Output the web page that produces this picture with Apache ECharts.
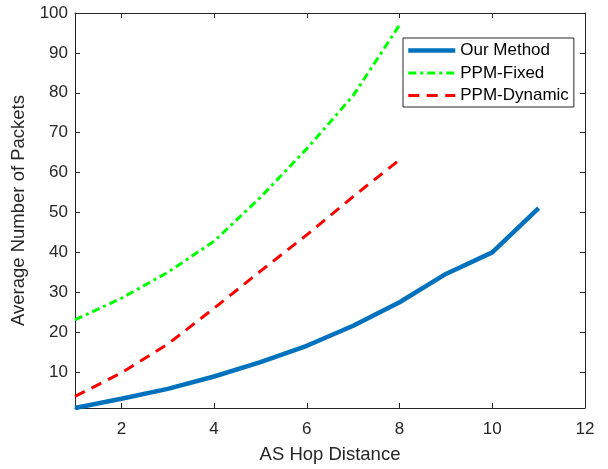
<!DOCTYPE html>
<html>
<head>
<meta charset="utf-8">
<script src="https://cdn.jsdelivr.net/npm/echarts@6/dist/echarts.min.js"></script>
<style>html,body{margin:0;padding:0;background:#fff}#c{width:608px;height:469px}</style>
</head>
<body>
<div id="c"></div>
<script>
var hops = [1, 2, 3, 4, 5, 6, 7, 8, 9, 10, 11];
var ourMethod = [1.0, 3.3, 5.8, 8.9, 12.5, 16.6, 21.6, 27.5, 34.6, 40.0, 51.1];
var ppmFixed = [23.1, 28.5, 35.0, 42.8, 53.8, 66.0, 79.3, 97.0];
var ppmDynamic = [3.9, 9.8, 17.0, 26.0, 35.3, 44.4, 54.0, 63.2];
var xTicks = [2, 4, 6, 8, 10, 12];
var yTicks = [10, 20, 30, 40, 50, 60, 70, 80, 90, 100];

function pairs(xs, ys) { return ys.map(function (v, i) { return [xs[i], v]; }); }

var font = "'Liberation Sans', Arial, Helvetica, sans-serif";
var axisColor = '#262626';

var chart = echarts.init(document.getElementById('c'), null, { renderer: 'canvas' });
chart.setOption({
  animation: false,
  backgroundColor: '#fff',
  grid: { left: 75, top: 13, right: 23, bottom: 57, containLabel: false },
  legend: {
    left: 403, top: 38,
    orient: 'vertical',
    backgroundColor: '#fff',
    borderColor: axisColor, borderWidth: 1,
    padding: [4, 5, 3, 3],
    itemGap: 5.5,
    itemWidth: 47, itemHeight: 17,
    itemStyle: { opacity: 0 },
    lineStyle: { width: 'inherit' },
    textStyle: { fontFamily: font, fontSize: 17, color: '#000' },
    data: ['Our Method', 'PPM-Fixed', 'PPM-Dynamic']
  },
  xAxis: [{
    type: 'value', min: 1, max: 12,
    name: 'AS Hop Distance', nameLocation: 'middle', nameGap: 37,
    nameTextStyle: { fontFamily: font, fontSize: 18.5, color: axisColor },
    axisLine: { show: true, lineStyle: { color: axisColor, width: 1 } },
    axisTick: { show: true, inside: true, length: 5, customValues: xTicks, lineStyle: { color: axisColor } },
    axisLabel: { customValues: xTicks, fontFamily: font, fontSize: 17, color: axisColor, margin: 13 },
    splitLine: { show: false }
  }, {
    type: 'value', min: 1, max: 12, position: 'top',
    axisLine: { show: true, lineStyle: { color: axisColor, width: 1 } },
    axisTick: { show: true, inside: true, length: 5, customValues: xTicks, lineStyle: { color: axisColor } },
    axisLabel: { show: false },
    splitLine: { show: false }
  }],
  yAxis: [{
    type: 'value', min: 1, max: 100,
    name: 'Average Number of Packets', nameLocation: 'middle', nameGap: 44,
    nameTextStyle: { fontFamily: font, fontSize: 18.5, color: axisColor },
    axisLine: { show: true, lineStyle: { color: axisColor, width: 1 } },
    axisTick: { show: true, inside: true, length: 5, customValues: yTicks, lineStyle: { color: axisColor } },
    axisLabel: { customValues: yTicks, fontFamily: font, fontSize: 17, color: axisColor, margin: 7 },
    splitLine: { show: false }
  }, {
    type: 'value', min: 1, max: 100, position: 'right',
    axisLine: { show: true, lineStyle: { color: axisColor, width: 1 } },
    axisTick: { show: true, inside: true, length: 5, customValues: yTicks, lineStyle: { color: axisColor } },
    axisLabel: { show: false },
    splitLine: { show: false }
  }],
  series: [{
    name: 'Our Method', type: 'line', data: pairs(hops, ourMethod),
    symbol: 'none', showSymbol: false, smooth: false,
    itemStyle: { color: '#0072BD' },
    lineStyle: { color: '#0072BD', width: 4.5 }
  }, {
    name: 'PPM-Fixed', type: 'line', data: pairs(hops, ppmFixed),
    symbol: 'none', showSymbol: false,
    itemStyle: { color: '#00FF00' },
    lineStyle: { color: '#00FF00', width: 3, type: [8, 4, 3, 4] }
  }, {
    name: 'PPM-Dynamic', type: 'line', data: pairs(hops, ppmDynamic),
    symbol: 'none', showSymbol: false,
    itemStyle: { color: '#FF0000' },
    lineStyle: { color: '#FF0000', width: 3, type: [11, 7.5] }
  }]
});
</script>
</body>
</html>
